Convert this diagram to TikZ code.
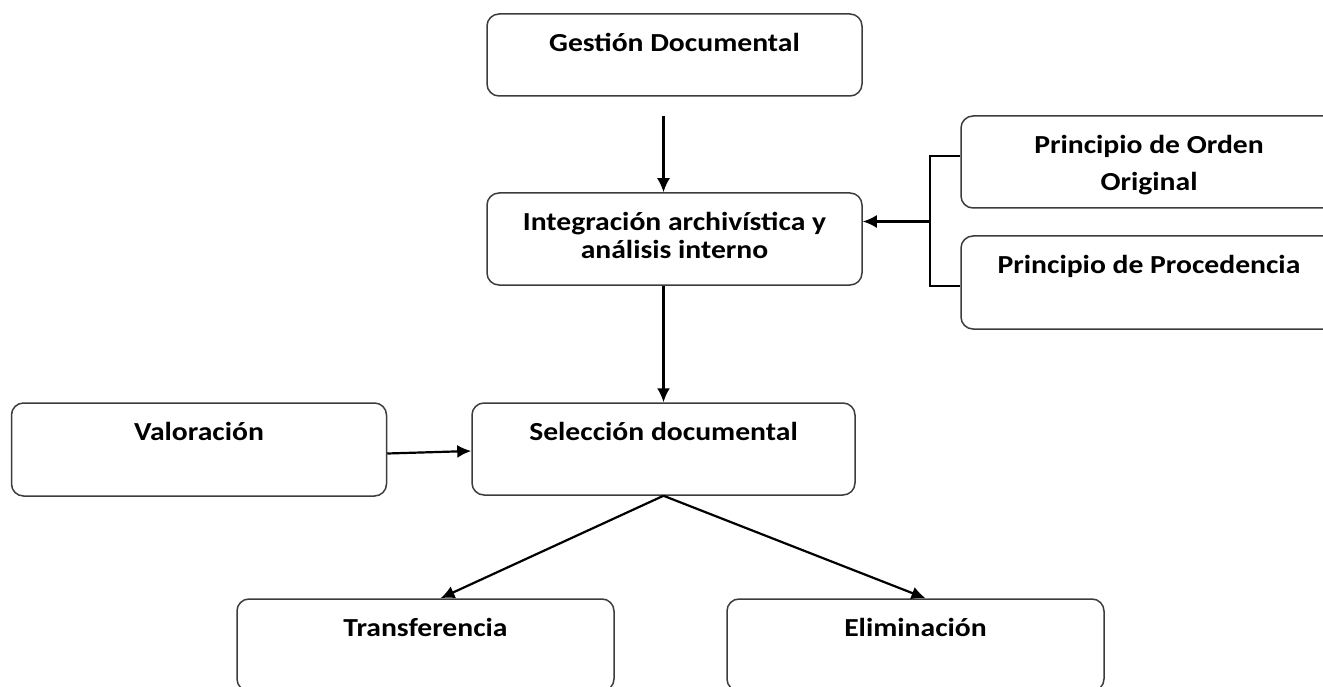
\documentclass[tikz,border=0pt]{standalone}
\usepackage{fontspec}
\setmainfont{Carlito}[FakeStretch=1.14]
\usetikzlibrary{arrows.meta}
\usetikzlibrary{positioning}
\usetikzlibrary{calc}
\definecolor{boxline}{RGB}{60,60,60}
\newcommand\mybox[5][]{%
  \node[mybox,minimum width=#3,minimum height=#4] (#2) at (#2pos) {};
  \node[mylabel,#1] (#2-text) at ([yshift=-38pt]#2.north) {#5};
}

\begin{document}
\begin{tikzpicture}[x=1pt, y=-1pt,
>={Latex[length=14pt,width=13pt]},
mybox/.style={
  draw=boxline,
  line width=1.5pt,
  rounded corners=12pt,
  inner sep=0pt},
mylabel/.style={
  anchor=base,
  align=center,
  inner sep=0pt,
  font=\fontsize{26}{28}\selectfont\bfseries},
twolines/.style={yshift=-28pt},
widelabel/.style={font=\fontsize{26}{37}\selectfont\bfseries, yshift=-37pt},
arr/.style={->, line width=2.2pt},
bracket/.style={line width=1.5pt}
]
\useasboundingbox (0,0) rectangle (1323,687);
\coordinate (gestionpos) at (674.5,55);
\coordinate (integracionpos) at (674.5,239);
\coordinate (ordenpos) at (1149,162);
\coordinate (procedenciapos) at (1149,282.5);
\coordinate (valoracionpos) at (199,449.5);
\coordinate (seleccionpos) at (663.5,449);
\coordinate (transferenciapos) at (425.5,645);
\coordinate (eliminacionpos) at (915.5,645);
\mybox{gestion}{375pt}{82pt}{Gestión Documental}
\mybox[twolines]{integracion}{375pt}{92pt}{Integración archivística y\\análisis interno}
\mybox[widelabel]{orden}{376pt}{92pt}{Principio de Orden\\Original}
\mybox{procedencia}{376pt}{93pt}{Principio de Procedencia}
\mybox{valoracion}{375pt}{93pt}{Valoración}
\mybox{seleccion}{383pt}{92pt}{Selección documental}
\mybox{transferencia}{377pt}{92pt}{Transferencia}
\mybox{eliminacion}{377pt}{92pt}{Eliminación}
% connectors
\coordinate (gestion-out) at ($(gestion.south -| seleccion.north)+(0,19)$);
\coordinate (split) at (930,221.5);
\draw [arr] (gestion-out) -- (gestion-out |- integracion.north);
\draw [arr] (seleccion.north |- integracion.south) -- (seleccion.north);
\draw [bracket] ([yshift=6pt]orden.west) -| (split) |- ([yshift=-3.5pt]procedencia.west);
\draw [arr] (split) -- (split -| integracion.east);
\draw [arr] ([yshift=-4pt]valoracion.east) -- ([yshift=-2pt]seleccion.west);
\draw [arr] (seleccion.south) -- ([xshift=15pt]transferencia.north);
\draw [arr] (seleccion.south) -- ([xshift=10pt]eliminacion.north);
\end{tikzpicture}
\end{document}
